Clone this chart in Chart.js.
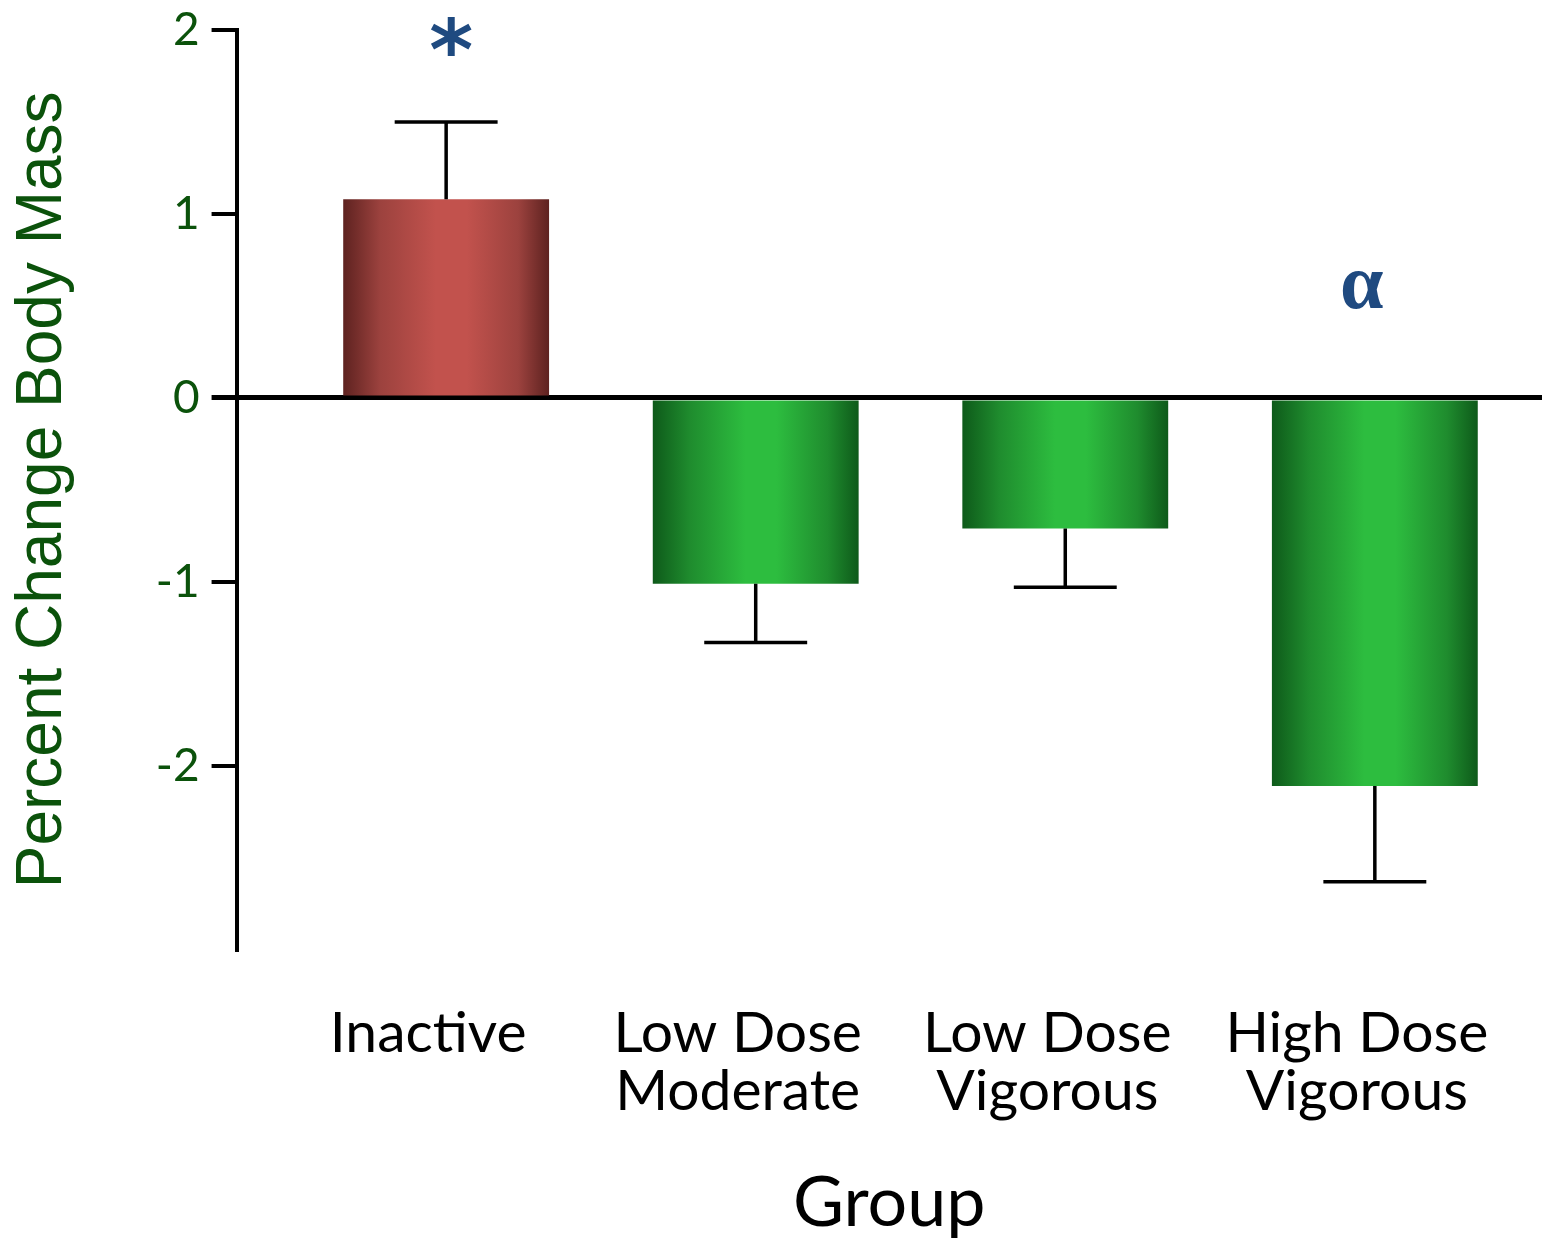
<!DOCTYPE html>
<html><head><meta charset="utf-8">
<script src="https://cdn.jsdelivr.net/npm/chart.js@4/dist/chart.umd.min.js"></script>
<style>html,body{margin:0;padding:0;background:#fff}#wrap{width:1542px;height:1245px}</style>
</head><body><div id="wrap"><canvas id="c" width="1542" height="1245"></canvas></div>
<script>
const categories = [["Inactive"], ["Low Dose", "Moderate"], ["Low Dose", "Vigorous"], ["High Dose", "Vigorous"]];
const meanChange = [1.08, -1.01, -0.71, -2.11];
const errorEnd = [1.50, -1.33, -1.03, -2.63];
const markers = ["*", "", "", "α"];
const markerLevel = [1.95, null, null, 0.60];
const yTicks = [2, 1, 0, -1, -2];

const points = meanChange.map((v, i) => ({x: i, y: v}));
const BAR_PCT = 0.665;

function barFill(ctx) {
  const chart = ctx.chart;
  const i = ctx.dataIndex;
  const up = meanChange[i] >= 0;
  const solid = up ? '#b04a46' : '#27a938';
  const xs = chart.scales && chart.scales.x;
  if (!chart.chartArea || !xs) return solid;
  const cx = xs.getPixelForValue(i);
  const w = Math.abs(xs.getPixelForValue(1) - xs.getPixelForValue(0)) * BAR_PCT;
  const g = chart.ctx.createLinearGradient(cx - w / 2, 0, cx + w / 2, 0);
  const [dark, mid, bright] = up ? ['#5e2220', '#9c423e', '#c2524d'] : ['#0e5a1a', '#1f8c2e', '#2dbd3f'];
  g.addColorStop(0, dark);
  g.addColorStop(0.18, mid);
  g.addColorStop(0.45, bright);
  g.addColorStop(0.6, bright);
  g.addColorStop(0.85, mid);
  g.addColorStop(1, dark);
  return g;
}

const errorPlugin = {
  id: 'errs',
  afterDatasetsDraw(chart) {
    const c = chart.ctx, xs = chart.scales.x, ys = chart.scales.y;
    const meta = chart.getDatasetMeta(0);
    c.save();
    c.strokeStyle = '#000';
    c.lineWidth = 3.5;
    meta.data.forEach((el, i) => {
      const x = xs.getPixelForValue(i);
      const y0 = ys.getPixelForValue(meanChange[i]);
      const y1 = ys.getPixelForValue(errorEnd[i]);
      const half = el.width * 0.25;
      c.beginPath();
      c.moveTo(x, y0); c.lineTo(x, y1);
      c.moveTo(x - half, y1); c.lineTo(x + half, y1);
      c.stroke();
    });
    c.fillStyle = '#1f4a80';
    c.textAlign = 'center';
    c.textBaseline = 'middle';
    markers.forEach((m, i) => {
      if (!m) return;
      const x = xs.getPixelForValue(i);
      const y = ys.getPixelForValue(markerLevel[i]);
      if (m === '*') c.font = 'bold 84px "DejaVu Sans"';
      else c.font = 'bold 78px "Liberation Serif"';
      c.fillText(m, x + (m === '*' ? 5 : -13), y + (m === '*' ? 18 : 0));
    });
    c.restore();
  }
};

new Chart(document.getElementById('c'), {
  type: 'bar',
  data: {
    datasets: [{
      data: points,
      backgroundColor: barFill,
      borderWidth: 0,
      barPercentage: BAR_PCT,
      categoryPercentage: 1
    }]
  },
  options: {
    responsive: false,
    animation: false,
    devicePixelRatio: 1,
    layout: {padding: {top: 30, right: 0, bottom: 0, left: 5}},
    plugins: {legend: {display: false}, tooltip: {enabled: false}},
    scales: {
      x: {
        type: 'linear',
        offset: false,
        min: -0.677,
        max: 3.54,
        grid: {display: false, drawTicks: false},
        border: {display: false},
        afterBuildTicks(axis) { axis.ticks = categories.map((c, i) => ({value: i})); },
        afterFit(axis) { axis.paddingLeft = 0; axis.paddingRight = 0; },
        ticks: {
          autoSkip: false,
          maxRotation: 0,
          padding: 55,
          labelOffset: -18,
          color: '#000',
          font: {family: 'Lato', size: 57, lineHeight: 1.02},
          callback: (v) => categories[v] || ''
        },
        title: {
          display: true,
          text: 'Group',
          color: '#000',
          font: {family: 'Lato', size: 70},
          padding: {top: -15, bottom: 0}
        }
      },
      y: {
        min: -3,
        max: 2,
        afterBuildTicks(axis) { axis.ticks = [-3].concat(yTicks.slice().reverse()).map(v => ({value: v})); },
        afterFit(axis) { axis.paddingTop = 0; axis.paddingBottom = 0; },
        grid: {
          drawOnChartArea: true,
          drawTicks: true,
          tickLength: 25,
          lineWidth: (ctx) => (ctx.tick && ctx.tick.value === 0) ? 5 : 4,
          color: (ctx) => (ctx.tick && ctx.tick.value === 0) ? '#000' : 'rgba(0,0,0,0)',
          tickColor: (ctx) => (ctx.tick && ctx.tick.value === -3) ? 'rgba(0,0,0,0)' : '#000'
        },
        border: {display: true, color: '#000', width: 4},
        ticks: {
          padding: 12,
          color: '#0b520b',
          font: {family: 'Lato', size: 46},
          callback: (v) => (yTicks.includes(v) ? String(v) : '')
        },
        title: {
          display: true,
          text: 'Percent Change Body Mass',
          color: '#0b520b',
          font: {family: 'Liberation Sans', size: 64},
          padding: {top: 0, bottom: 62}
        }
      }
    }
  },
  plugins: [errorPlugin]
});
</script>
</body></html>
